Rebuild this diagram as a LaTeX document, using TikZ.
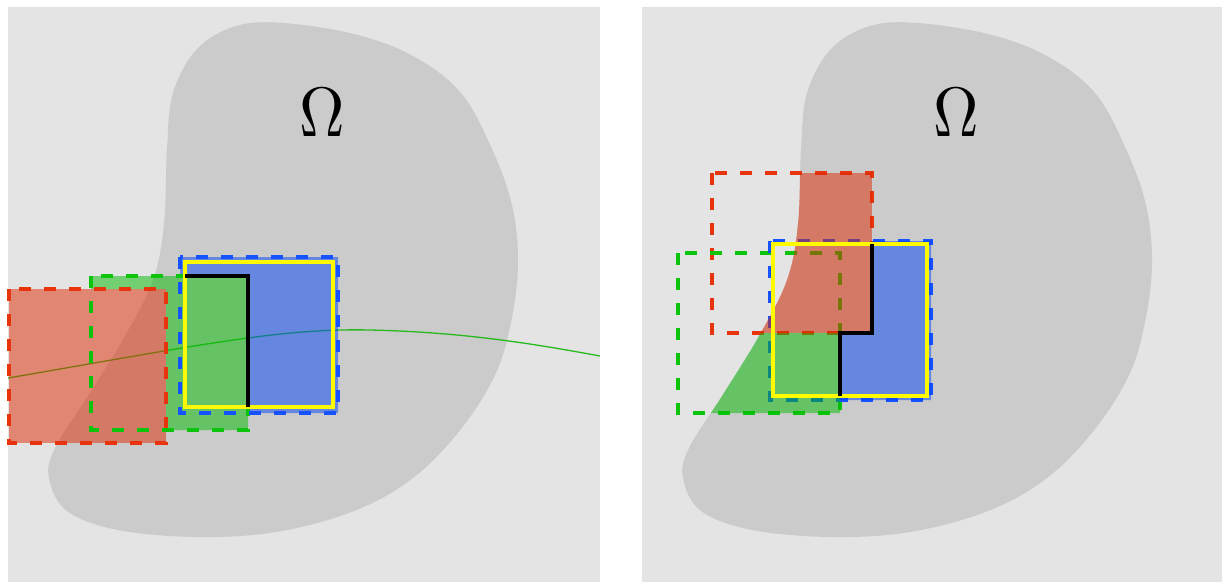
\documentclass[tikz,border=0pt]{standalone}
\usetikzlibrary{calc}

\definecolor{panelgray}{RGB}{228,228,228}
\definecolor{blobgray}{RGB}{203,203,203}
\definecolor{rededge}{RGB}{232,52,12}
\definecolor{greenedge}{RGB}{12,196,12}
\definecolor{blueedge}{RGB}{22,82,255}
\definecolor{redfill}{RGB}{221,41,1}
\definecolor{greenfill}{RGB}{1,189,1}
\definecolor{bluefill}{RGB}{1,69,245}
\definecolor{patchyellow}{RGB}{255,250,0}
\definecolor{curvegreen}{RGB}{40,185,30}

% outline of the domain Omega (pixel-like units, y pointing down)
\newcommand{\domainpath}{plot[smooth cycle, tension=0.6] coordinates {
  (283,23) (354,34) (413,56) (461,93) (492,149) (512,205) (518,261)
  (512,317) (496,373) (461,429) (413,478) (354,511) (276,532) (197,537)
  (118,530) (67,511) (49,478) (55,448) (88,396) (125,336) (153,280)
  (164,224) (167,149) (173,93) (197,49) (236,26)}}

\tikzset{
  panelbg/.style={fill=panelgray},
  omegaregion/.style={fill=blobgray},
  coverbox/.style={line width=4pt, dash pattern=on 12pt off 13pt},
  redbox/.style={coverbox, draw=rededge},
  greenbox/.style={coverbox, draw=greenedge},
  bluebox/.style={coverbox, draw=blueedge},
  redpart/.style={fill=redfill, fill opacity=0.5},
  greenpart/.style={fill=greenfill, fill opacity=0.5},
  bluepart/.style={fill=bluefill, fill opacity=0.5},
  patchbox/.style={draw=patchyellow, line width=3.5pt},
  seamline/.style={draw=black, line width=3.2pt},
  curveline/.style={draw=curvegreen, line width=1.3pt},
  omegalabel/.style={inner sep=0pt, font=\normalsize, xscale=6.3, yscale=7}
}

\begin{document}
\begin{tikzpicture}[x=1pt, y=-1pt]
\useasboundingbox (0,0) rectangle (1222,582);

% ---------------- left panel: patches cut along a curve ----------------
\begin{scope}
  \fill[panelbg] (8,7) rectangle (600,582);
  \fill[omegaregion] \domainpath;
  \coordinate (cstart) at (8,378);
  \coordinate (cmid) at (370,330);
  \coordinate (cend) at (600,356);
  \draw[curveline] (cstart) .. controls (200,345) and (280,328) .. (cmid)
               .. controls (460,332) and (530,343) .. (cend);
  % coloured parts of the three boxes
  \fill[redpart] (9,289) rectangle (166,443);
  \fill[greenpart] (91,276) -- (248,276) -- (248,430) -- (166,430)
                   -- (166,289) -- (91,289) -- cycle;
  \fill[bluepart] (180,257) -- (338,257) -- (338,413) -- (248,413)
                  -- (248,276) -- (180,276) -- cycle;
  % box outlines
  \draw[redbox] (9,289) rectangle (166,443);
  \draw[greenbox] (91,276) rectangle (248,430);
  \draw[bluebox] (180,257) rectangle (338,413);
  \draw[patchbox] (185,262) rectangle (333,407);
  \coordinate (sa) at (185,276);
  \coordinate (sb) at (248,276);
  \coordinate (sc) at (248,407);
  \draw[seamline] (sa) -- (sb) -- (sc);
  \node[omegalabel] (omegaL) at (322.5,113) {$\Omega$};
\end{scope}

% ---------------- right panel: patches restricted to Omega ----------------
\begin{scope}[xshift=634pt]
  \fill[panelbg] (8,7) rectangle (588,582);
  \fill[omegaregion] \domainpath;
  % box outlines
  \draw[redbox] (78,173) rectangle (238,333);
  \draw[greenbox] (44,253) rectangle (206,413);
  \draw[bluebox] (136,241) rectangle (297,400);
  % coloured parts, only inside the domain
  \begin{scope}
    \clip \domainpath;
    \fill[redpart] (78,173) rectangle (238,333);
    \fill[greenpart] (44,253) -- (78,253) -- (78,333) -- (206,333)
                     -- (206,413) -- (44,413) -- cycle;
    \fill[bluepart] (238,241) -- (297,241) -- (297,400) -- (206,400)
                    -- (206,333) -- (238,333) -- cycle;
  \end{scope}
  \draw[patchbox] (139,244) rectangle (293,396);
  \coordinate (ta) at (238,244);
  \coordinate (tb) at (238,333);
  \coordinate (tc) at (206,333);
  \coordinate (td) at (206,396);
  \draw[seamline] (ta) -- (tb) -- (tc) -- (td);
  \node[omegalabel] (omegaR) at (322.5,113) {$\Omega$};
\end{scope}
\end{tikzpicture}
\end{document}
